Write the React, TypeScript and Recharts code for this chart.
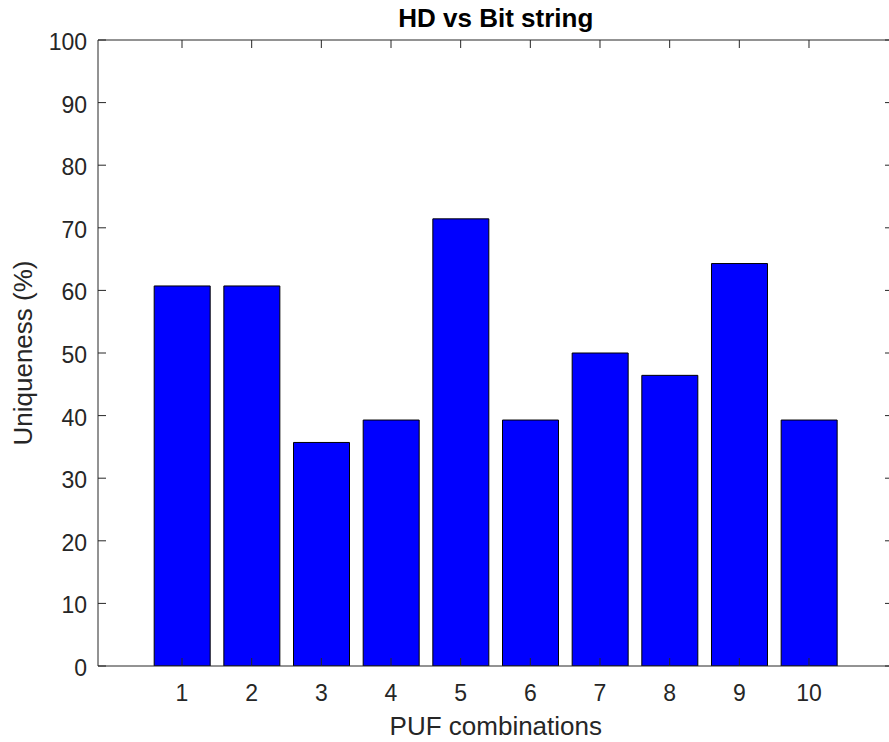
import React from 'react';
import { ComposedChart, Bar, Line, XAxis, YAxis } from 'recharts';

const categories = [1, 2, 3, 4, 5, 6, 7, 8, 9, 10];
const uniqueness = [60.71, 60.71, 35.71, 39.29, 71.43, 39.29, 50.0, 46.43, 64.29, 39.29];
const yTicks = [0, 10, 20, 30, 40, 50, 60, 70, 80, 90, 100];
const xTicks = categories;

const data = categories.map((c, i) => ({ x: c, value: uniqueness[i] }));

const FONT = '"Liberation Sans", Arial, Helvetica, sans-serif';
const AX = '#262626';

const BottomTick = (props: any) => {
  const { x, y, payload } = props;
  return (
    <g>
      <line x1={x} x2={x} y1={y} y2={y - 8} stroke={AX} strokeWidth={1} />
      <text x={x} y={y + 35} textAnchor="middle" fontSize={23} fontFamily={FONT} fill={AX}>
        {payload.value}
      </text>
    </g>
  );
};

const TopTick = (props: any) => {
  const { x, y } = props;
  return <line x1={x} x2={x} y1={y} y2={y + 8} stroke={AX} strokeWidth={1} />;
};

const LeftTick = (props: any) => {
  const { x, y, payload } = props;
  return (
    <g>
      <line x1={x} x2={x + 8} y1={y} y2={y} stroke={AX} strokeWidth={1} />
      <text x={x - 11} y={y + 10} textAnchor="end" fontSize={23} fontFamily={FONT} fill={AX}>
        {payload.value}
      </text>
    </g>
  );
};

const RightTick = (props: any) => {
  const { x, y } = props;
  return <line x1={x - 8} x2={x} y1={y} y2={y} stroke={AX} strokeWidth={1} />;
};

export default function App() {
  return (
    <div
      style={{
        position: 'absolute',
        left: 0,
        top: 0,
        width: 889,
        height: 742,
        overflow: 'hidden',
        background: '#fff',
      }}
    >
      <ComposedChart
        width={900}
        height={742}
        data={data}
        margin={{ top: 39, right: 6, bottom: 0, left: 0 }}
      >
        <XAxis
          xAxisId="bottom"
          dataKey="x"
          type="number"
          domain={[-0.206, 11.206]}
          allowDataOverflow
          ticks={xTicks}
          interval={0}
          height={76}
          tickSize={0}
          tickMargin={0}
          tickLine={false}
          axisLine={{ stroke: AX, strokeWidth: 1 }}
          tick={<BottomTick />}
        />
        <XAxis
          xAxisId="top"
          orientation="top"
          dataKey="x"
          type="number"
          domain={[-0.206, 11.206]}
          allowDataOverflow
          ticks={xTicks}
          interval={0}
          height={1}
          tickSize={0}
          tickMargin={0}
          tickLine={false}
          axisLine={{ stroke: AX, strokeWidth: 1 }}
          tick={<TopTick />}
        />
        <YAxis
          yAxisId="left"
          type="number"
          domain={[0, 100]}
          allowDataOverflow
          ticks={yTicks}
          interval={0}
          width={98}
          tickSize={0}
          tickMargin={0}
          tickLine={false}
          axisLine={{ stroke: AX, strokeWidth: 1 }}
          tick={<LeftTick />}
        />
        <YAxis
          yAxisId="right"
          orientation="right"
          type="number"
          domain={[0, 100]}
          allowDataOverflow
          ticks={yTicks}
          interval={0}
          width={1}
          tickSize={0}
          tickMargin={0}
          tickLine={false}
          axisLine={{ stroke: AX, strokeWidth: 1 }}
          tick={<RightTick />}
        />
        <Bar
          xAxisId="bottom"
          yAxisId="left"
          dataKey="value"
          barSize={56}
          fill="#0000FF"
          stroke="#000000"
          strokeWidth={1}
          isAnimationActive={false}
        />
        <Line
          xAxisId="top"
          yAxisId="right"
          dataKey="value"
          stroke="none"
          strokeWidth={0}
          dot={false}
          activeDot={false}
          legendType="none"
          isAnimationActive={false}
        />
        <text x={495.8} y={27} textAnchor="middle" fontSize={26} fontWeight="bold" fontFamily={FONT} fill="#000">
          HD vs Bit string
        </text>
        <text x={495.8} y={735} textAnchor="middle" fontSize={26} fontFamily={FONT} fill={AX}>
          PUF combinations
        </text>
        <text
          x={32}
          y={353}
          textAnchor="middle"
          fontSize={26}
          fontFamily={FONT}
          fill={AX}
          transform="rotate(-90, 32, 353)"
        >
          Uniqueness (%)
        </text>
      </ComposedChart>
    </div>
  );
}
